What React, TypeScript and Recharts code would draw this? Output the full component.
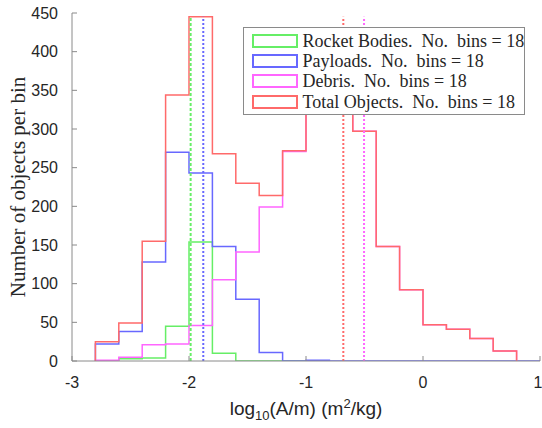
import React from 'react';
import { ComposedChart, Line, XAxis, YAxis, ReferenceLine, Legend, Label } from 'recharts';

// Bin edges of log10(A/m), width 0.2
const binEdges = [-2.8, -2.6, -2.4, -2.2, -2.0, -1.8, -1.6, -1.4, -1.2, -1.0, -0.8, -0.6, -0.4, -0.2, 0, 0.2, 0.4, 0.6, 0.8, 1.0];

// Counts per bin (starting at the first edge)
const rocketBodies = [0, 3, 4, 45, 154, 10, 0, 0, 0, 0];
const payloads = [22, 38, 128, 270, 243, 148, 80, 11, 0, 1, 0, 0, 0, 0, 0, 0, 0, 0, 0];
const debris = [1, 5, 21, 22, 46, 105, 141, 199, 271, 359, 339, 297, 148, 92, 47, 41, 29, 13];
const totalObjects = [25, 49, 155, 344, 445, 268, 230, 214, 272, 360, 340, 297, 148, 92, 47, 41, 29, 13];

const seriesNames = ['Rocket Bodies', 'Payloads', 'Debris', 'Total Objects'];
const seriesColors = ['#66ee66', '#6868ff', '#ff66ff', '#ff6a6a'];
const seriesCounts = [rocketBodies, payloads, debris, totalObjects];
const seriesMeans = [-1.986, -1.878, -0.504, -0.681];
const meanDash = ['3 2', '2 2', '2 2', '2 2'];
const meanLineTop = 445;
const legendBins = 18;

const xTicks = [-3, -2, -1, 0, 1];
const yTicks = [0, 50, 100, 150, 200, 250, 300, 350, 400, 450];

function stairs(counts: number[]) {
  const n = counts.length;
  const pts: { x: number; y: number }[] = [{ x: binEdges[0], y: 0 }];
  for (let i = 0; i < n; i++) pts.push({ x: binEdges[i], y: counts[i] });
  pts.push({ x: binEdges[n], y: counts[n - 1] });
  pts.push({ x: binEdges[n], y: 0 });
  return pts;
}

const TEXT = '#262626';
const AXIS = '#8a8a8a';

function LegendBox() {
  return (
    <div
      style={{
        position: 'relative',
        width: 282,
        height: 88,
        boxSizing: 'border-box',
        border: `1.3px solid ${AXIS}`,
        background: '#fff',
      }}
    >
      {seriesNames.map((name, i) => (
        <div
          key={name}
          style={{
            position: 'absolute',
            left: 0,
            top: 2.5 + i * 20.3,
            height: 20.3,
            display: 'flex',
            alignItems: 'center',
          }}
        >
          <div
            style={{
              marginLeft: 8,
              width: 45.6,
              height: 14,
              boxSizing: 'border-box',
              border: `2px solid ${seriesColors[i]}`,
              background: '#fff',
            }}
          />
          <span
            style={{
              marginLeft: 5,
              fontFamily: '"Liberation Serif", serif',
              fontSize: 18,
              color: TEXT,
              whiteSpace: 'pre',
              lineHeight: '20px',
            }}
          >
            {`${name}.\u2002No.\u2002bins = ${legendBins}`}
          </span>
        </div>
      ))}
    </div>
  );
}

const XLabel = (props: any) => {
  const vb = props.viewBox || { x: 72, y: 361, width: 468, height: 67 };
  const cx = vb.x + vb.width / 2;
  return (
    <text x={cx} y={415} textAnchor="middle" fill={TEXT} fontSize={19} fontFamily='"Liberation Sans", Arial, sans-serif'>
      log
      <tspan dy={5} fontSize={13}>10</tspan>
      <tspan dy={-5}>(A/m) (m</tspan>
      <tspan dy={-7} fontSize={13}>2</tspan>
      <tspan dy={7}>/kg)</tspan>
    </text>
  );
};

const YLabel = (props: any) => {
  const vb = props.viewBox || { x: 0, y: 13, width: 72, height: 348 };
  const cy = vb.y + vb.height / 2;
  const cx = 18;
  return (
    <text
      x={cx}
      y={cy}
      transform={`rotate(-90 ${cx} ${cy})`}
      textAnchor="middle"
      dominantBaseline="central"
      fill={TEXT}
      fontSize={21}
      fontFamily='"Liberation Serif", serif'
    >
      Number of objects per bin
    </text>
  );
};

export default function App() {
  return (
    <div style={{ position: 'absolute', left: 0, top: 0, width: 542, height: 428, background: '#fff' }}>
      <ComposedChart width={542} height={428} margin={{ top: 13, right: 2, bottom: 0, left: 0 }}>
        <XAxis
          dataKey="x"
          type="number"
          domain={[-3, 1]}
          ticks={xTicks}
          allowDataOverflow
          height={67}
          tickSize={-5}
          tickMargin={21}
          axisLine={{ stroke: AXIS }}
          tickLine={{ stroke: AXIS }}
          tick={{ fill: TEXT, fontSize: 16, fontFamily: '"Liberation Sans", Arial, sans-serif' }}
        >
          <Label content={<XLabel />} />
        </XAxis>
        <YAxis
          type="number"
          domain={[0, 450]}
          ticks={yTicks}
          allowDataOverflow
          width={72}
          tickSize={-5}
          tickMargin={19}
          axisLine={{ stroke: AXIS }}
          tickLine={{ stroke: AXIS }}
          tick={{ fill: TEXT, fontSize: 16, fontFamily: '"Liberation Sans", Arial, sans-serif' }}
        >
          <Label content={<YLabel />} />
        </YAxis>
        {seriesCounts.map((counts, i) => (
          <Line
            key={seriesNames[i]}
            data={stairs(counts)}
            dataKey="y"
            type="stepAfter"
            stroke={seriesColors[i]}
            strokeWidth={1.5}
            dot={false}
            activeDot={false}
            isAnimationActive={false}
            name={seriesNames[i]}
          />
        ))}
        {seriesMeans.map((m, i) => (
          <ReferenceLine
            key={'mean-' + i}
            segment={[
              { x: m, y: 0 },
              { x: m, y: meanLineTop },
            ]}
            stroke={seriesColors[i]}
            strokeOpacity={1}
            strokeWidth={2}
            strokeDasharray={meanDash[i]}
          />
        ))}
        <Legend
          layout="horizontal"
          verticalAlign="middle"
          align="center"
          wrapperStyle={{ position: 'absolute', top: 27, left: 243, width: 282, height: 88 }}
          content={() => <LegendBox />}
        />
      </ComposedChart>
    </div>
  );
}
